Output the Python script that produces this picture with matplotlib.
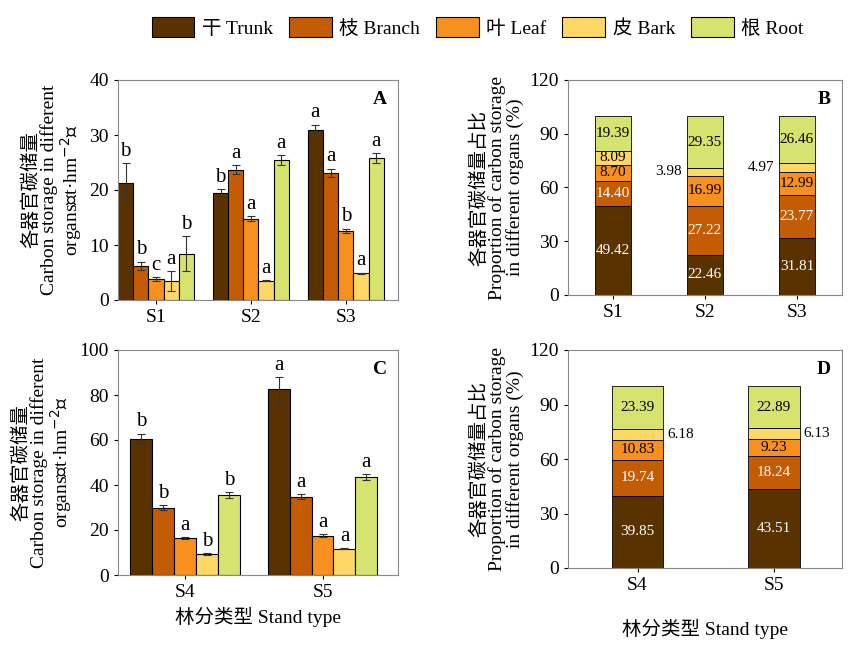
import matplotlib.pyplot as plt
import numpy as np

plt.rcParams['font.family'] = ['Liberation Serif', 'Noto Sans CJK SC']
plt.rcParams['font.size'] = 14

organs = ['干 Trunk', '枝 Branch', '叶 Leaf', '皮 Bark', '根 Root']
colors = ['#5a3200', '#c45c06', '#f7901e', '#fdd866', '#d6e36f']

sites_a = ['S1', 'S2', 'S3']
vals_a = [[21.3, 6.2, 3.8, 3.5, 8.4],
          [19.5, 23.7, 14.8, 3.5, 25.5],
          [31.0, 23.1, 12.6, 4.9, 25.8]]
err_a = [[3.6, 0.8, 0.4, 1.8, 3.2],
         [0.7, 0.8, 0.5, 0.1, 0.9],
         [0.9, 0.8, 0.4, 0.1, 0.9]]
let_a = [['b', 'b', 'c', 'a', 'b'],
         ['b', 'a', 'a', 'a', 'a'],
         ['a', 'a', 'b', 'a', 'a']]

sites_c = ['S4', 'S5']
vals_c = [[60.5, 30.0, 16.5, 9.3, 35.5],
          [82.5, 34.8, 17.5, 11.7, 43.5]]
err_c = [[2.3, 1.0, 0.4, 0.3, 1.2],
         [5.5, 1.2, 0.6, 0.3, 1.4]]
let_c = [['b', 'b', 'a', 'b', 'b'],
         ['a', 'a', 'a', 'a', 'a']]

pct_b = [[49.42, 14.40, 8.70, 8.09, 19.39],
         [22.46, 27.22, 16.99, 3.98, 29.35],
         [31.81, 23.77, 12.99, 4.97, 26.46]]
pct_d = [[39.85, 19.74, 10.83, 6.18, 23.39],
         [43.51, 18.24, 9.23, 6.13, 22.89]]

W, H = 853, 650
fig = plt.figure(figsize=(8.53, 6.5), dpi=100)


def add_ax(x0, y0, x1, y1):
    return fig.add_axes([x0 / W, 1 - y1 / H, (x1 - x0) / W, (y1 - y0) / H])


def grouped(ax, sites, vals, errs, lets, width, xlim, ymax, step, tag, fs_let):
    x = np.arange(len(sites))
    for j in range(5):
        pos = x + (j - 2) * width
        v = [r[j] for r in vals]
        e = [r[j] for r in errs]
        ax.bar(pos, v, width, color=colors[j], edgecolor='black', linewidth=0.8,
               yerr=e, error_kw=dict(ecolor='#333333', elinewidth=0.8, capsize=3, capthick=0.8))
        for p, vv, ee, l in zip(pos, v, e, [r[j] for r in lets]):
            ax.text(p, vv + ee + ymax * 0.01, l, ha='center', va='bottom', fontsize=fs_let)
    ax.set_xlim(*xlim)
    ax.set_ylim(0, ymax)
    ax.set_yticks(np.arange(0, ymax + 1, step))
    ax.set_xticks(x)
    ax.set_xticklabels(sites)
    ax.text(0.96, 0.95, tag, transform=ax.transAxes, ha='right', va='top', fontsize=14, fontweight='bold')
    ax.set_ylabel('各器官碳储量\nCarbon storage in different\norgans（t·hm$^{-2}$）', fontsize=14, linespacing=1.0)


def stacked(ax, sites, pcts, width, xlim, tag, outside):
    x = np.arange(len(sites))
    for i in range(len(sites)):
        bottom = 0
        for j in range(5):
            v = pcts[i][j]
            ax.bar(x[i], v, width, bottom=bottom, color=colors[j], edgecolor='black', linewidth=0.6)
            tc = 'white' if j < 2 else 'black'
            if (i, j) in outside:
                side = outside[(i, j)]
                xx = x[i] - width / 2 - 0.05 if side == 'l' else x[i] + width / 2 + 0.03
                ax.text(xx, bottom + v / 2, f'{v:.2f}', ha='right' if side == 'l' else 'left',
                        va='center', fontsize=11)
            else:
                ax.text(x[i], bottom + v / 2, f'{v:.2f}', ha='center', va='center', fontsize=11, color=tc)
            bottom += v
    ax.set_xlim(*xlim)
    ax.set_ylim(0, 120)
    ax.set_yticks(np.arange(0, 121, 30))
    ax.set_xticks(x)
    ax.set_xticklabels(sites)
    ax.text(0.96, 0.95, tag, transform=ax.transAxes, ha='right', va='top', fontsize=14, fontweight='bold')
    ax.set_ylabel('各器官碳储量占比\nProportion of carbon storage\nin different organs (%)', fontsize=14, linespacing=1.0)


axA = add_ax(118, 80, 398, 300)
grouped(axA, sites_a, vals_a, err_a, let_a, 0.16, (-0.4, 2.55), 40, 10, 'A', 15)
axB = add_ax(568, 80, 842, 295)
stacked(axB, sites_a, pct_b, 0.4, (-0.49, 2.49), 'B', {(1, 3): 'l', (2, 3): 'l'})
axC = add_ax(118, 350, 398, 575)
grouped(axC, sites_c, vals_c, err_c, let_c, 0.16, (-0.49, 1.55), 100, 20, 'C', 15)
axC.set_xlabel('林分类型 Stand type', fontsize=14)
axD = add_ax(568, 350, 842, 568)
stacked(axD, sites_c, pct_d, 0.38, (-0.51, 1.5), 'D', {(0, 3): 'r', (1, 3): 'r'})
axD.set_xlabel('林分类型 Stand type', fontsize=14, labelpad=18)

for ax in (axA, axB, axC, axD):
    for s in ax.spines.values():
        s.set_color('#888888')
    ax.tick_params(direction='out', length=3)

handles = [plt.Rectangle((0, 0), 1, 1, facecolor=c, edgecolor='black', linewidth=0.8) for c in colors]
fig.legend(handles, organs, loc='upper center', bbox_to_anchor=(0.56, 1.0), ncol=5, frameon=False,
           fontsize=14, handlelength=2.2, handleheight=1.2, columnspacing=0.8, handletextpad=0.4)

fig.savefig('out.png', dpi=100)
